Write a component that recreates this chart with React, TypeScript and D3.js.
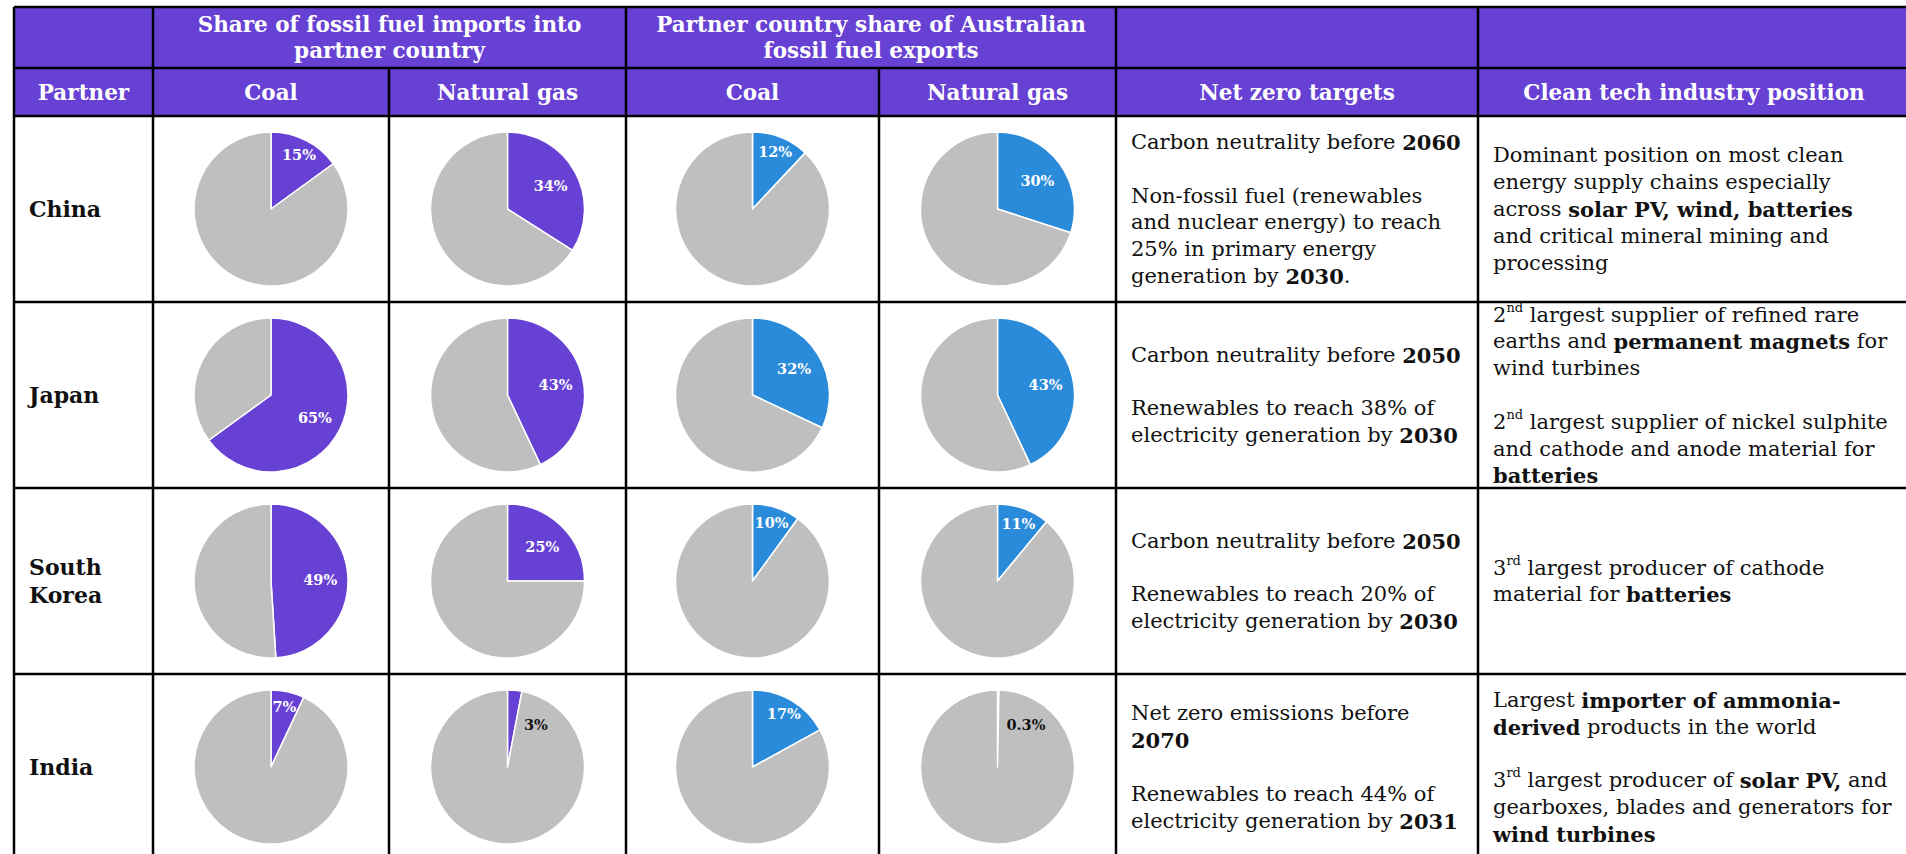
import React from "react";
import * as d3 from "d3";

// ---- data ----
const partners = ["China", "Japan", "South Korea", "India"];
const partnerLines = [["China"], ["Japan"], ["South", "Korea"], ["India"]];

// Share of fossil fuel imports into partner country (%)
const importCoal = [15, 65, 49, 7];
const importGas = [34, 43, 25, 3];
// Partner country share of Australian fossil fuel exports (%)
const exportCoal = [12, 32, 10, 17];
const exportGas = [30, 43, 11, 0.3];

const groupTitles = [
  ["Share of fossil fuel imports into", "partner country"],
  ["Partner country share of Australian", "fossil fuel exports"],
];
const columnTitles = [
  "Partner",
  "Coal",
  "Natural gas",
  "Coal",
  "Natural gas",
  "Net zero targets",
  "Clean tech industry position",
];

// **bold**, ^superscript^
const netZero = [
  [
    "Carbon neutrality before **2060**",
    "",
    "Non-fossil fuel (renewables",
    "and nuclear energy) to reach",
    "25% in primary energy",
    "generation by **2030**.",
  ],
  ["Carbon neutrality before **2050**", "", "Renewables to reach 38% of", "electricity generation by **2030**"],
  ["Carbon neutrality before **2050**", "", "Renewables to reach 20% of", "electricity generation by **2030**"],
  ["Net zero emissions before", "**2070**", "", "Renewables to reach 44% of", "electricity generation by **2031**"],
];
const cleanTech = [
  [
    "Dominant position on most clean",
    "energy supply chains especially",
    "across **solar PV, wind, batteries**",
    "and critical mineral mining and",
    "processing",
  ],
  [
    "2^nd^ largest supplier of refined rare",
    "earths and **permanent magnets** for",
    "wind turbines",
    "",
    "2^nd^ largest supplier of nickel sulphite",
    "and cathode and anode material for",
    "**batteries**",
  ],
  ["3^rd^ largest producer of cathode", "material for **batteries**"],
  [
    "Largest **importer of ammonia-**",
    "**derived** products in the world",
    "",
    "3^rd^ largest producer of **solar PV,** and",
    "gearboxes, blades and generators for",
    "**wind turbines**",
  ],
];

// ---- layout & style ----
const W = 1906;
const H = 854;
const FONT = "'DejaVu Serif', Georgia, serif";
const PURPLE = "#6741d4";
const BLUE = "#2b8bdb";
const GREY = "#bfbfbf";
const colEdges = [14, 153, 389, 626, 879, 1116, 1478, 1910];
const headTop = 7;
const headMid = 68;
const headBottom = 116;
const tableBottom = 860;
const LINE = 26.8;
const PIE_R = 77;

const rowScale = d3.scaleBand<string>().domain(partners).range([headBottom, tableBottom]);

const pieGen = d3
  .pie<number>()
  .sort(null)
  .value((d) => d);
const arcGen = d3.arc<d3.PieArcDatum<number>>().innerRadius(0).outerRadius(PIE_R);

type Seg = { t: string; b: boolean; sup: boolean };
function parse(line: string): Seg[] {
  return line
    .split(/(\*\*[^*]+\*\*|\^[^^]+\^)/)
    .filter((s) => s.length > 0)
    .map((s) => {
      if (s.startsWith("**")) return { t: s.slice(2, -2), b: true, sup: false };
      if (s.startsWith("^")) return { t: s.slice(1, -1), b: false, sup: true };
      return { t: s, b: false, sup: false };
    });
}

function RichLine({ x, y, line }: { x: number; y: number; line: string }) {
  const segs = parse(line);
  const out: React.ReactNode[] = [];
  let raised = false;
  segs.forEach((s, i) => {
    let dy = 0;
    if (s.sup && !raised) {
      dy = -8;
      raised = true;
    } else if (!s.sup && raised) {
      dy = 8;
      raised = false;
    }
    out.push(
      <tspan
        key={i}
        dy={dy || undefined}
        fontWeight={s.b ? "bold" : "normal"}
        fontSize={s.sup ? 13 : undefined}
      >
        {s.t}
      </tspan>
    );
  });
  return (
    <text x={x} y={y} dominantBaseline="central" fontSize={21} fill="#111" style={{ whiteSpace: "pre" }}>
      {out}
    </text>
  );
}

function TextBlock({ x, cy, lines }: { x: number; cy: number; lines: string[] }) {
  const y0 = cy - ((lines.length - 1) / 2) * LINE;
  return (
    <g>
      {lines.map((l, i) => (l ? <RichLine key={i} x={x} y={y0 + i * LINE} line={l} /> : null))}
    </g>
  );
}

function Pie({ cx, cy, value, color }: { cx: number; cy: number; value: number; color: string }) {
  const arcs = pieGen([value, 100 - value]);
  const first = arcs[0];
  const tiny = value < 5;
  let ang: number;
  let rad: number;
  if (tiny) {
    ang = (34 * Math.PI) / 180;
    rad = PIE_R * 0.66;
  } else {
    ang = (first.startAngle + first.endAngle) / 2;
    rad = PIE_R * (value < 20 ? 0.8 : 0.64);
  }
  const lx = Math.sin(ang) * rad;
  const ly = -Math.cos(ang) * rad;
  const label = `${d3.format("~r")(value)}%`;
  return (
    <g transform={`translate(${cx},${cy})`}>
      {arcs.map((a, i) => (
        <path key={i} d={arcGen(a) || ""} fill={i === 0 ? color : GREY} stroke="#fff" strokeWidth={1.5} strokeLinejoin="round" />
      ))}
      <text
        x={lx}
        y={ly}
        textAnchor="middle"
        dominantBaseline="central"
        fontSize={14.5}
        fontWeight="bold"
        fill={tiny ? "#111" : "#fff"}
      >
        {label}
      </text>
    </g>
  );
}

export default function App() {
  const pieCols = [
    { data: importCoal, color: PURPLE },
    { data: importGas, color: PURPLE },
    { data: exportCoal, color: BLUE },
    { data: exportGas, color: BLUE },
  ];
  const colCenter = (i: number) => (colEdges[i] + colEdges[i + 1]) / 2;
  const bw = rowScale.bandwidth();
  const right = colEdges[colEdges.length - 1];
  const left = colEdges[0];

  // vertical grid segments: [x, y1, y2]
  const vLines: [number, number, number][] = [];
  colEdges.forEach((x, i) => {
    const spanned = i === 2 || i === 4; // inside merged group headers
    vLines.push([x, spanned ? headMid : headTop, tableBottom]);
  });
  const hLines = [headTop, headMid, headBottom, ...partners.map((p) => rowScale(p)! + bw)];

  return (
    <svg
      width={W}
      height={H}
      style={{ position: "absolute", left: 0, top: 0, background: "#fff" }}
      fontFamily={FONT}
    >
      {/* header fill */}
      <rect x={left} y={headTop} width={right - left} height={headBottom - headTop} fill={PURPLE} />

      {/* group titles */}
      {groupTitles.map((lines, g) => {
        const cx = (colEdges[1 + g * 2] + colEdges[3 + g * 2]) / 2;
        const cy = (headTop + headMid) / 2;
        return lines.map((l, i) => (
          <text
            key={`${g}-${i}`}
            x={cx}
            y={cy + (i - (lines.length - 1) / 2) * 26.5}
            textAnchor="middle"
            dominantBaseline="central"
            fontSize={21.5}
            fontWeight="bold"
            fill="#fff"
          >
            {l}
          </text>
        ));
      })}

      {/* column titles */}
      {columnTitles.map((t, i) => (
        <text
          key={t + i}
          x={colCenter(i)}
          y={(headMid + headBottom) / 2}
          textAnchor="middle"
          dominantBaseline="central"
          fontSize={21.5}
          fontWeight="bold"
          fill="#fff"
        >
          {t}
        </text>
      ))}

      {/* body rows */}
      {partners.map((p, r) => {
        const cy = rowScale(p)! + bw / 2;
        return (
          <g key={p}>
            {partnerLines[r].map((l, i) => (
              <text
                key={i}
                x={colEdges[0] + 15}
                y={cy + (i - (partnerLines[r].length - 1) / 2) * 28}
                dominantBaseline="central"
                fontSize={22}
                fontWeight="bold"
                fill="#111"
              >
                {l}
              </text>
            ))}
            {pieCols.map((c, k) => (
              <Pie key={k} cx={colCenter(k + 1)} cy={cy} value={c.data[r]} color={c.color} />
            ))}
            <TextBlock x={colEdges[5] + 15} cy={cy} lines={netZero[r]} />
            <TextBlock x={colEdges[6] + 15} cy={cy} lines={cleanTech[r]} />
          </g>
        );
      })}

      {/* grid */}
      <g stroke="#000" strokeWidth={2.5}>
        {hLines.map((y, i) => (
          <line key={`h${i}`} x1={left} x2={right} y1={y} y2={y} />
        ))}
        {vLines.map(([x, y1, y2], i) => (
          <line key={`v${i}`} x1={x} x2={x} y1={y1} y2={y2} />
        ))}
      </g>
    </svg>
  );
}
